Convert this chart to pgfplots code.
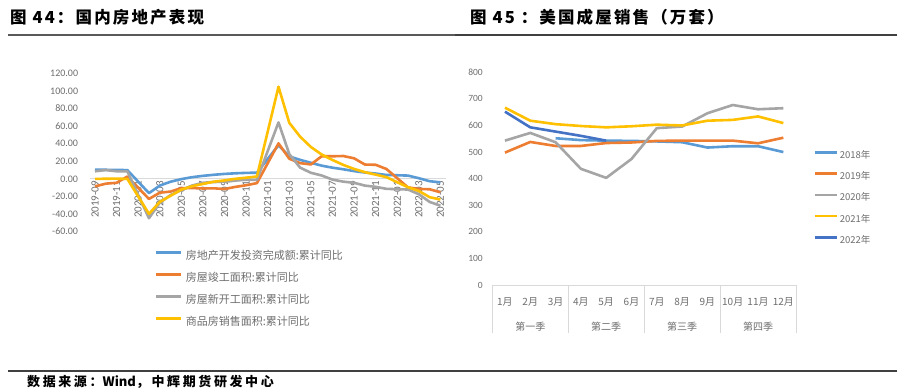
\documentclass[border=0pt]{standalone}
\usepackage{fontspec}
\usepackage{pgfplots}
\pgfplotsset{compat=1.18}
\setmainfont{Carlito}
\newfontfamily\cjk{Noto Sans CJK SC}
\newfontfamily\cjkt[LetterSpace=13]{Noto Sans CJK SC}
\newfontfamily\cjks[LetterSpace=20]{Noto Sans CJK SC}
\definecolor{sA}{HTML}{5B9BD5}
\definecolor{sB}{HTML}{ED7D31}
\definecolor{sC}{HTML}{A5A5A5}
\definecolor{sD}{HTML}{FFC000}
\definecolor{sE}{HTML}{4472C4}
\definecolor{lbl}{RGB}{110,110,110}
\definecolor{axl}{RGB}{217,217,217}
\begin{document}
\begin{tikzpicture}[x=1pt,y=1pt]
\path[fill=white, use as bounding box] (0pt,0pt) rectangle (909pt,391pt);
% titles and rules
\node[anchor=west, inner sep=0pt, font=\cjkt\bfseries\fontsize{16.5}{18}\selectfont] at (10pt,374pt) {图 44：国内房地产表现};
\node[anchor=west, inner sep=0pt, font=\cjkt\bfseries\fontsize{16.5}{18}\selectfont] at (470pt,374pt) {图 45 ：美国成屋销售（万套）};
\draw[line width=1.6pt, black!65] (8pt,356pt) -- (455pt,356pt);
\draw[line width=1.6pt, black!75] (455pt,356pt) -- (897pt,356pt);
\draw[line width=1.2pt, black!75] (8pt,20pt) -- (897pt,20pt);
\node[anchor=west, inner sep=0pt, font=\cjks\bfseries\fontsize{13}{15}\selectfont] at (27pt,9.5pt) {数据来源：{\cjk\bfseries Wind}，中辉期货研发中心};

% ---------------- left chart ----------------
\begin{axis}[at={(89.6pt,159.5pt)}, anchor=south west, scale only axis,
  width=356.2pt, height=158pt,
  xmin=-0.5, xmax=32.5, ymin=-60, ymax=120,
  axis x line=middle, axis y line=left,
  x axis line style={-, draw=axl, line width=0.8pt},
  y axis line style={draw=none},
  major tick length=0pt,
  hide obscured x ticks=false,
  xtick={0,2,...,32},
  xticklabels={2019-09,2019-11,2020-01,2020-03,2020-05,2020-07,2020-09,2020-11,2021-01,2021-03,2021-05,2021-07,2021-09,2021-11,2022-01,2022-03,2022-05},
  xticklabel style={rotate=90, anchor=east, font=\fontsize{11}{12}\selectfont, text=lbl, inner sep=2pt},
  ytick={-60,-40,...,120},
  yticklabel style={font=\fontsize{10}{12}\selectfont, text=lbl, xshift=-8pt},
  /pgf/number format/.cd, fixed, fixed zerofill, precision=2, assume math mode=true, /pgfplots/.cd,
  clip=false,
  legend style={at={(0.1836,-0.117)}, anchor=north west, draw=none, fill=none, inner sep=0pt,
    row sep=10.5pt, font=\cjk\fontsize{11}{12}\selectfont, text=lbl,
    nodes={inner sep=0pt, text height=9pt, text depth=2.5pt},
    /tikz/every odd column/.style={column sep=3pt}},
  legend cell align=left,
  legend image code/.code={\draw[#1, line width=2.6pt] (0pt,3.25pt) -- (25pt,3.25pt);},
  every axis plot/.append style={line width=2.6pt, line join=round, mark=none},
]
\addplot[sA] coordinates {(0,10.5)(1,10.3)(2,10.2)(3,9.9)(5,-16.3)(6,-7.7)(7,-3.3)(8,-0.3)(9,1.9)(10,3.4)(11,4.6)(12,5.6)(13,6.3)(14,6.8)(15,7.0)(17,38.3)(18,25.6)(19,21.6)(20,18.3)(21,15.0)(22,12.7)(23,10.9)(24,8.8)(25,7.2)(26,6.0)(27,4.4)(29,3.7)(30,0.7)(31,-2.7)(32,-4.0)};
\addlegendentry{房地产开发投资完成额:累计同比}
\addplot[sB] coordinates {(0,-8.6)(1,-5.5)(2,-4.5)(3,2.6)(5,-22.9)(6,-15.8)(7,-14.5)(8,-10.6)(9,-10.5)(10,-11.0)(11,-10.8)(12,-11.6)(13,-9.2)(14,-7.3)(15,-4.9)(17,40.4)(18,22.9)(19,17.9)(20,16.4)(21,25.7)(22,25.7)(23,26.0)(24,23.4)(25,16.3)(26,16.0)(27,11.2)(29,-9.8)(30,-11.5)(31,-11.9)(32,-15.3)};
\addlegendentry{房屋竣工面积:累计同比}
\addplot[sC] coordinates {(0,8.6)(1,10.0)(2,8.6)(3,8.5)(5,-44.9)(6,-27.2)(7,-18.4)(8,-12.8)(9,-7.6)(10,-4.5)(11,-3.6)(12,-3.4)(13,-2.0)(14,-1.0)(15,-1.2)(17,64.3)(18,28.2)(19,12.8)(20,6.9)(21,3.8)(22,-0.9)(23,-3.2)(24,-4.5)(25,-7.7)(26,-9.1)(27,-11.4)(29,-12.2)(30,-17.5)(31,-26.3)(32,-30.6)};
\addlegendentry{房屋新开工面积:累计同比}
\addplot[sD] coordinates {(0,-0.1)(1,0.1)(2,0.2)(3,-0.1)(5,-39.9)(6,-26.3)(7,-19.3)(8,-12.3)(9,-8.4)(10,-5.8)(11,-3.3)(12,-1.8)(13,0.0)(14,1.3)(15,2.6)(17,104.9)(18,63.8)(19,48.1)(20,36.3)(21,27.7)(22,21.5)(23,15.9)(24,11.3)(25,7.6)(26,4.8)(27,1.9)(29,-9.6)(30,-13.8)(31,-20.9)(32,-23.6)};
\addlegendentry{商品房销售面积:累计同比}
\end{axis}

% ---------------- right chart ----------------
\begin{axis}[at={(492.3pt,106pt)}, anchor=south west, scale only axis,
  width=303.7pt, height=212.7pt,
  xmin=0.5, xmax=12.5, ymin=0, ymax=800,
  axis x line*=bottom, axis y line*=left,
  x axis line style={-, draw=axl, line width=0.8pt},
  y axis line style={draw=none},
  major tick length=0pt,
  xtick={1,...,12},
  xticklabels={1月,2月,3月,4月,5月,6月,7月,8月,9月,10月,11月,12月},
  xticklabel style={font=\cjk\fontsize{10}{12}\selectfont, text=lbl, yshift=-9pt},
  extra x ticks={0.5,3.5,6.5,9.5,12.5},
  extra x tick labels={},
  extra x tick style={major tick length=48pt, tick align=outside, tick style={draw=axl, line width=0.8pt}},
  ytick={0,100,...,800},
  yticklabel style={font=\fontsize{9.5}{11}\selectfont, text=lbl, xshift=-6pt},
  /pgf/number format/assume math mode=true,
  clip=false,
  legend style={at={(1.056,0.6347)}, anchor=north west, draw=none, fill=none, inner sep=0pt,
    row sep=11.3pt, font=\cjk\fontsize{9.5}{11}\selectfont, text=lbl,
    nodes={inner sep=0pt, text height=8pt, text depth=2pt},
    /tikz/every odd column/.style={column sep=2pt}},
  legend cell align=left,
  legend image code/.code={\draw[#1, line width=2.6pt] (0pt,3pt) -- (22pt,3pt);},
  every axis plot/.append style={line width=2.6pt, line join=round, mark=none},
]
\addplot[sA] coordinates {(3,552)(4,545)(5,543)(6,542)(7,540)(8,537)(9,517)(10,522)(11,522)(12,500)};
\addlegendentry{2018年}
\addplot[sB] coordinates {(1,498)(2,538)(3,523)(4,523)(5,534)(6,536)(7,542)(8,543)(9,543)(10,543)(11,533)(12,554)};
\addlegendentry{2019年}
\addplot[sC] coordinates {(1,543)(2,572)(3,537)(4,437)(5,403)(6,474)(7,590)(8,596)(9,646)(10,677)(11,661)(12,665)};
\addlegendentry{2020年}
\addplot[sD] coordinates {(1,667)(2,618)(3,605)(4,598)(5,593)(6,597)(7,603)(8,600)(9,618)(10,621)(11,634)(12,609)};
\addlegendentry{2021年}
\addplot[sE] coordinates {(1,652)(2,593)(3,577)(4,561)(5,543)};
\addlegendentry{2022年}
\node[font=\cjk\fontsize{10}{12}\selectfont, text=lbl, yshift=-42pt] at (axis cs:2,0) {第一季};
\node[font=\cjk\fontsize{10}{12}\selectfont, text=lbl, yshift=-42pt] at (axis cs:5,0) {第二季};
\node[font=\cjk\fontsize{10}{12}\selectfont, text=lbl, yshift=-42pt] at (axis cs:8,0) {第三季};
\node[font=\cjk\fontsize{10}{12}\selectfont, text=lbl, yshift=-42pt] at (axis cs:11,0) {第四季};
\end{axis}
\end{tikzpicture}
\end{document}
